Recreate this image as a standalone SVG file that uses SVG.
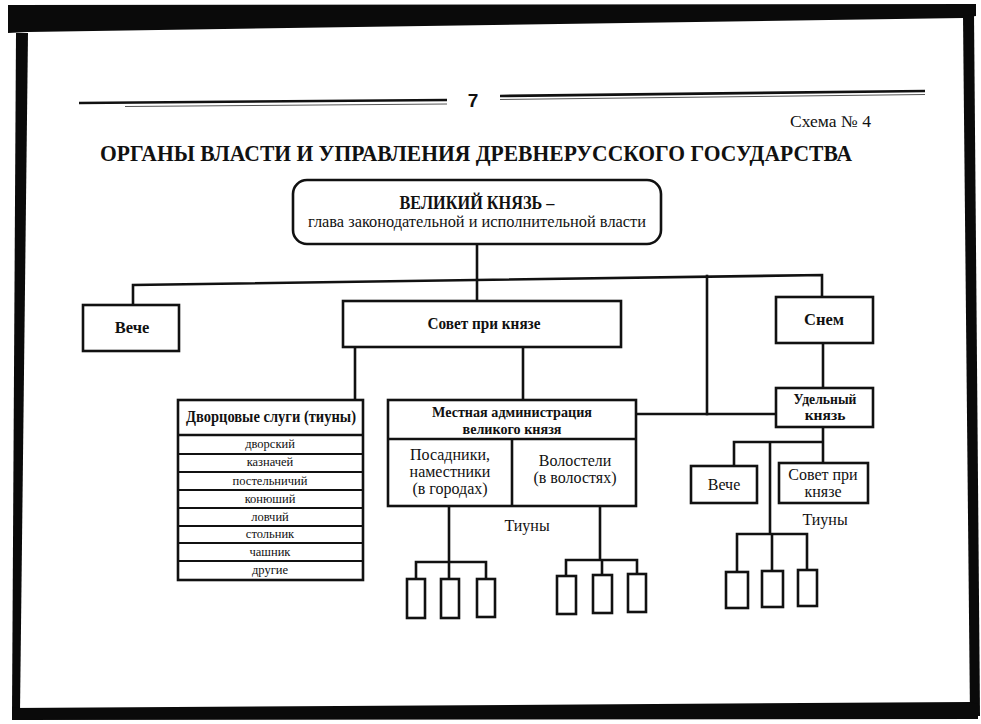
<svg xmlns="http://www.w3.org/2000/svg" width="981" height="724" viewBox="0 0 981 724">
<defs>
<style>
.ln{fill:none;stroke:#111;stroke-width:2.6;stroke-linecap:square}
.bx{fill:#fff;stroke:#111;stroke-width:2.6}
.tb{fill:none;stroke:#111;stroke-width:2.6}
.row{fill:none;stroke:#111;stroke-width:1.8}
text{font-family:"Liberation Serif","Times New Roman",serif;fill:#111;text-anchor:middle}
.b{font-weight:bold}
.s{font-size:12.5px}
.m{font-size:16px}
</style>
</defs>
<rect x="0" y="0" width="981" height="724" fill="#fff"/>
<g id="frame">
<polygon points="8,5 976,4 976,16 963,18 28,32 8,33" fill="#0a0a0a"/>
<polygon points="16,33 28,33 20,712 12,712" fill="#0a0a0a"/>
<polygon points="963,16 974,14 980,716 970,716" fill="#0a0a0a"/>
<polygon points="12,708 970,702 978,704 978,719 12,720" fill="#0a0a0a"/>
</g>
<g id="header">
<line x1="79" y1="103" x2="447" y2="100" stroke="#111" stroke-width="2.6"/>
<line x1="125" y1="106.5" x2="447" y2="104" stroke="#555" stroke-width="1"/>
<line x1="500" y1="96" x2="925" y2="91" stroke="#111" stroke-width="2.6"/>
<line x1="500" y1="99.5" x2="925" y2="94.5" stroke="#555" stroke-width="1"/>
<text x="473" y="107" style="font-family:'Liberation Sans',Arial,sans-serif;font-weight:bold;font-size:19px">7</text>
<text x="871" y="127" style="font-size:16.5px;text-anchor:end" textLength="81" lengthAdjust="spacingAndGlyphs">Схема № 4</text>
<text x="476" y="161" class="b" style="font-size:24px" textLength="752" lengthAdjust="spacingAndGlyphs">ОРГАНЫ ВЛАСТИ И УПРАВЛЕНИЯ ДРЕВНЕРУССКОГО ГОСУДАРСТВА</text>
</g>
<g id="connectors">
<path class="ln" d="M477,244 V301"/>
<path class="ln" d="M133,305 V285 L822,275 V297"/>
<path class="ln" d="M707,276 V414"/>
<path class="ln" d="M636,414 H776"/>
<path class="ln" d="M823,343 V388"/>
<path class="ln" d="M355,347 V400"/>
<path class="ln" d="M523,347 V400"/>
<path class="ln" d="M449,506 V562 M416,579 V562 H486 V579 M449,562 V579"/>
<path class="ln" d="M600,506 V560 M566,576 V560 H637 V576 M602,560 V576"/>
<path class="ln" d="M823,427 V463 M823,442 H734 V466 M770,442 V534 M737,572 V534 H807 V572 M772,534 V572"/>
</g>
<g id="grand-prince">
<rect x="293" y="180" width="368" height="64" rx="14" class="bx"/>
<text x="477" y="209" class="b" style="font-size:18px" textLength="155" lengthAdjust="spacingAndGlyphs">ВЕЛИКИЙ КНЯЗЬ –</text>
<text x="477" y="227" style="font-size:16px" textLength="338" lengthAdjust="spacingAndGlyphs">глава законодательной и исполнительной власти</text>
</g>
<g id="veche">
<rect x="83" y="305" width="96" height="46" class="bx"/>
<text x="132" y="333" class="b" style="font-size:16.5px">Вече</text>
</g>
<g id="sovet">
<rect x="343" y="301" width="278" height="46" class="bx"/>
<text x="484" y="329" class="b" style="font-size:17px" textLength="113" lengthAdjust="spacingAndGlyphs">Совет при князе</text>
</g>
<g id="snem">
<rect x="776" y="297" width="97" height="46" class="bx"/>
<text x="824" y="325" class="b" style="font-size:16.5px">Снем</text>
</g>
<g id="udelny">
<rect x="776" y="388" width="97" height="39" class="bx"/>
<text x="825" y="404" class="b" style="font-size:15.5px" textLength="63" lengthAdjust="spacingAndGlyphs">Удельный</text>
<text x="825" y="420" class="b" style="font-size:15.5px">князь</text>
</g>
<g id="dvortsovye">
<rect x="178" y="400" width="185" height="180" class="bx"/>
<line x1="178" y1="435" x2="363" y2="435" class="tb"/>
<path class="row" d="M178,454H363M178,472H363M178,490H363M178,508H363M178,526H363M178,543H363M178,561H363"/>
<text x="271" y="422" class="b" style="font-size:16px" textLength="170" lengthAdjust="spacingAndGlyphs">Дворцовые слуги (тиуны)</text>
<text x="270" y="448" class="s">дворский</text>
<text x="270" y="466" class="s">казначей</text>
<text x="270" y="485" class="s">постельничий</text>
<text x="270" y="503" class="s">конюший</text>
<text x="270" y="521" class="s">ловчий</text>
<text x="270" y="538" class="s">стольник</text>
<text x="270" y="556" class="s">чашник</text>
<text x="270" y="574" class="s">другие</text>
</g>
<g id="mestnaya">
<rect x="388" y="400" width="248" height="106" class="bx"/>
<line x1="388" y1="439" x2="636" y2="439" class="tb"/>
<line x1="512" y1="439" x2="512" y2="506" class="tb"/>
<text x="512" y="417" class="b" style="font-size:15px" textLength="160" lengthAdjust="spacingAndGlyphs">Местная администрация</text>
<text x="512" y="434" class="b" style="font-size:15px" textLength="99" lengthAdjust="spacingAndGlyphs">великого князя</text>
<text x="450" y="460" class="m">Посадники,</text>
<text x="450" y="477" class="m">наместники</text>
<text x="450" y="494" class="m">(в городах)</text>
<text x="575" y="466" class="m">Волостели</text>
<text x="575" y="483" class="m">(в волостях)</text>
</g>
<g id="tiuny-1">
<text x="527" y="531" class="m">Тиуны</text>
<rect x="407" y="579" width="18" height="39" class="bx"/>
<rect x="441" y="579" width="18" height="39" class="bx"/>
<rect x="477" y="579" width="18" height="38" class="bx"/>
</g>
<g id="tiuny-2">
<rect x="557" y="576" width="19" height="38" class="bx"/>
<rect x="593" y="575" width="19" height="38" class="bx"/>
<rect x="628" y="574" width="18" height="38" class="bx"/>
</g>
<g id="veche-2">
<rect x="691" y="466" width="66" height="37" class="bx"/>
<text x="724" y="490" class="m">Вече</text>
</g>
<g id="sovet-2">
<rect x="779" y="463" width="89" height="40" class="bx"/>
<text x="823" y="480" class="m">Совет при</text>
<text x="823" y="497" class="m">князе</text>
</g>
<g id="tiuny-3">
<text x="825" y="525" class="m">Тиуны</text>
<rect x="726" y="572" width="22" height="36" class="bx"/>
<rect x="762" y="571" width="21" height="36" class="bx"/>
<rect x="798" y="570" width="19" height="36" class="bx"/>
</g>
</svg>
